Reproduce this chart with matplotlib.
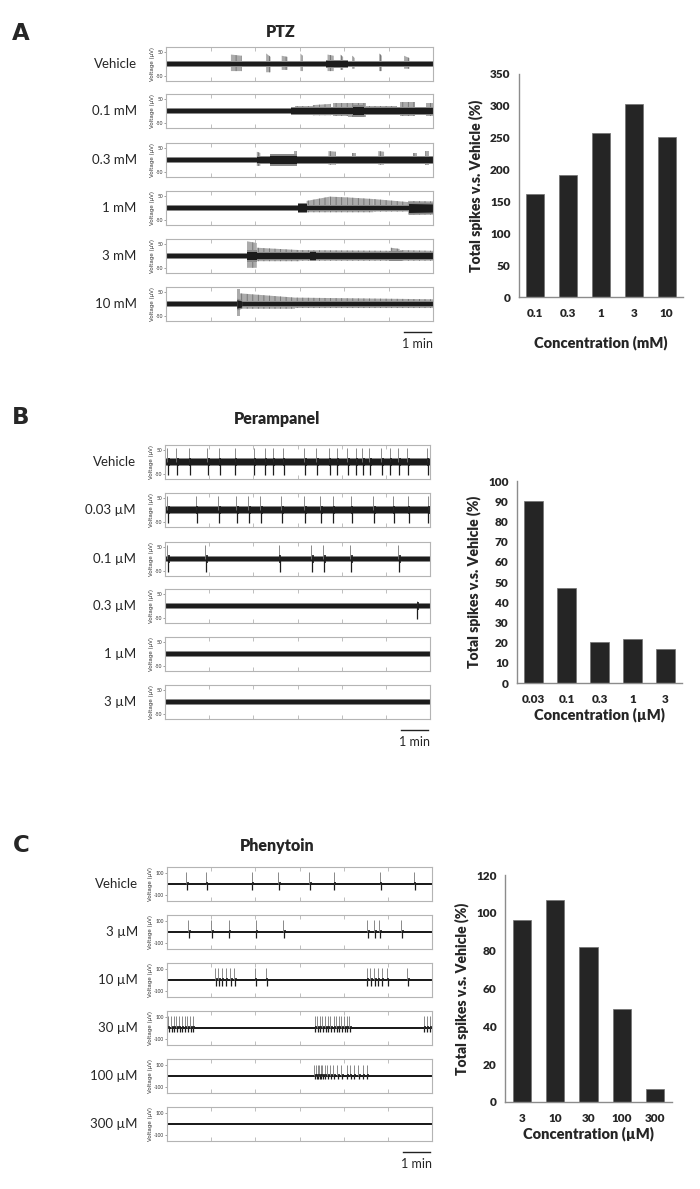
import numpy as np
import matplotlib
matplotlib.use('Agg')
import matplotlib.pyplot as plt
from matplotlib.transforms import blended_transform_factory

plt.rcParams['font.family'] = ['Lato', 'DejaVu Sans']
plt.rcParams['hatch.color'] = '#6c6c6c'
plt.rcParams['hatch.linewidth'] = 0.6

W, H = 700, 1189

# bar charts: total spikes as % of vehicle
ptz_conc = ['0.1', '0.3', '1', '3', '10']
ptz_pct = [162, 192, 258, 303, 251]
per_conc = ['0.03', '0.1', '0.3', '1', '3']
per_pct = [90, 47, 20.5, 22, 17]
phe_conc = ['3', '10', '30', '100', '300']
phe_pct = [96, 107, 82, 49, 7]

# row labels of the traces
ptz_rows = ['Vehicle', '0.1 mM', '0.3 mM', '1 mM', '3 mM', '10 mM']
per_rows = ['Vehicle', '0.03 µM', '0.1 µM', '0.3 µM', '1 µM', '3 µM']
phe_rows = ['Vehicle', '3 µM', '10 µM', '30 µM', '100 µM', '300 µM']

# PTZ traces (time in s, voltage in µV)
# dark core: (t0, t1, halfwidth0, halfwidth1)
ptz_dark = [
    [(0, 600, 10, 10), (360, 410, 13, 13)],
    [(0, 280, 8, 8), (280, 600, 12, 12), (420, 445, 18, 18)],
    [(0, 204, 8, 8), (204, 600, 12, 12), (234, 294, 17, 17)],
    [(0, 297, 8, 8), (297, 316, 15, 15), (316, 545, 9, 9), (545, 600, 19, 17)],
    [(0, 183, 8, 8), (183, 204, 18, 18), (204, 600, 11, 11), (324, 338, 15, 15), (500, 530, 14, 14)],
    [(0, 600, 8, 8), (159, 170, 18, 13)],
]
# grey bursts: (t0, t1, upper0, upper1, lower)
ptz_gray = [
    [(146, 170, 40, 35, 30), (225, 235, 45, 30, 35), (260, 273, 35, 30, 25), (302, 307, 45, 35, 30),
     (363, 377, 40, 35, 30), (392, 398, 40, 30, 25), (419, 424, 35, 25, 20), (479, 485, 45, 35, 30),
     (535, 547, 35, 25, 20)],
    [(290, 330, 20, 20, 15), (330, 370, 25, 30, 18), (375, 410, 35, 35, 20), (410, 450, 35, 35, 25),
     (450, 520, 20, 20, 18), (525, 560, 40, 40, 20), (585, 600, 35, 35, 20)],
    [(204, 212, 35, 30, 25), (234, 294, 25, 25, 25), (288, 294, 38, 38, 20), (365, 382, 38, 35, 20),
     (417, 428, 28, 28, 18), (477, 490, 38, 35, 20), (555, 565, 30, 30, 18), (583, 590, 38, 38, 20)],
    [(316, 368, 30, 48, 18), (368, 406, 48, 45, 18), (406, 466, 45, 38, 18), (466, 545, 38, 25, 15),
     (545, 600, 30, 28, 28)],
    [(183, 204, 62, 55, 50), (204, 300, 35, 25, 22), (300, 505, 25, 22, 20), (505, 525, 35, 30, 20),
     (525, 600, 25, 22, 20)],
    [(159, 166, 62, 62, 50), (166, 290, 45, 27, 20), (290, 600, 27, 20, 17)],
]

# Perampanel traces: spike times (s), spike amplitude (up, down), baseline half width
per_spikes = [
    [5, 25, 54, 95, 122, 158, 201, 226, 244, 267, 315, 342, 371, 389, 412, 432, 446, 462, 489, 509, 528, 548, 593],
    [5, 70, 120, 161, 188, 215, 263, 315, 351, 380, 421, 471, 516, 550, 595],
    [5, 91, 258, 331, 358, 419, 528],
    [570],
    [],
    [],
]
per_amp = [(58, -55), (58, -55), (58, -55), (20, -55), (0, 0), (0, 0)]
per_noise = [11, 11, 10, 10, 10, 10]

# Phenytoin traces
phe_spikes = [
    [44, 88, 192, 252, 322, 377, 482, 559],
    [48, 100, 140, 201, 263, 453, 469, 480, 530],
    [109, 116, 124, 133, 143, 152, 199, 224, 452, 460, 469, 477, 486, 498, 544],
    [2, 9, 15, 21, 27, 33, 40, 46, 52, 58, 334, 340, 346, 352, 358, 364, 370, 377, 383, 389, 395, 401,
     407, 412, 581, 588, 595],
    [333, 337, 341, 345, 348, 352, 357, 363, 369, 376, 385, 395, 407, 414, 423, 433, 443, 452],
    [],
]
phe_amp = [(105, -55), (105, -55), (110, -50), (110, -35), (95, -25), (0, 0)]
phe_noise = [8, 8, 8, 8, 8, 8]

DARK = '#1c1c1c'
FUZZ = '#8a8a8a'
GREY = '#767676'
FRAME = '#b4b4b4'
TXT = '#262626'


def px_axes(fig, left, top, right, bottom):
    return fig.add_axes([left / W, 1 - bottom / H, (right - left) / W, (bottom - top) / H])


def trace_frame(ax, ymax, ytick, label):
    ax.set_xlim(0, 600)
    ax.set_ylim(-ymax, ymax)
    for s in ax.spines.values():
        s.set_color(FRAME)
        s.set_linewidth(0.8)
    ax.set_xticks([100, 200, 300, 400, 500])
    ax.set_xticklabels([])
    ax.tick_params(axis='x', direction='in', top=True, bottom=True, length=3, width=0.6, color=FRAME)
    ax.set_yticks([ytick, -ytick])
    ax.set_yticklabels([str(ytick), '-' + str(ytick)])
    ax.tick_params(axis='y', direction='out', length=1.5, width=0.4, labelsize=3.5, pad=0.5,
                   color='#555555', labelcolor='#333333')
    ax.set_ylabel('Voltage (µV)', fontsize=4, labelpad=0.5, family='DejaVu Sans', color='#333333')
    ax.text(-0.11, 0.5, label, transform=ax.transAxes, ha='right', va='center', fontsize=9.5, color=TXT)


def band(ax, t0, t1, h0, h1):
    # noisy band: grey fringe with a dark core
    ax.fill_between([t0, t1], [-h0 * 1.4, -h1 * 1.4], [h0 * 1.4, h1 * 1.4], color=FUZZ, lw=0)
    ax.fill_between([t0, t1], [-h0, -h1], [h0, h1], color=DARK, lw=0)


def spikes(ax, times, up, down, blob):
    if len(times) == 0:
        return
    t = np.asarray(times, float)
    ax.vlines(t, 0, up, color=GREY, lw=0.6)
    ax.vlines(t + 1.5, down, 0, color=DARK, lw=0.9)
    ax.vlines(t + 3.5, blob[0], blob[1], color=DARK, lw=1.2)


def scale_bar(ax):
    tr = blended_transform_factory(ax.transData, ax.transAxes)
    ax.plot([535, 595], [-0.33, -0.33], color='#222222', lw=1, transform=tr, clip_on=False)
    ax.text(565, -0.68, '1 min', transform=tr, ha='center', va='center', fontsize=9, color=TXT)


def bar_panel(ax, cats, vals, ymax, step, xlabel, labelpad):
    ax.bar(range(len(vals)), vals, width=0.55, color='#252525', edgecolor='#707070', lw=0.5)
    ax.set_xlim(-0.5, len(vals) - 0.5)
    ax.set_ylim(0, ymax)
    ax.set_yticks(np.arange(0, ymax + 1, step))
    ax.set_xticks(range(len(vals)))
    ax.set_xticklabels(cats)
    for side in ['top', 'right']:
        ax.spines[side].set_visible(False)
    for side in ['left', 'bottom']:
        ax.spines[side].set_color('#8c8c8c')
        ax.spines[side].set_linewidth(1)
    ax.tick_params(axis='both', length=0, labelsize=8.5, labelcolor=TXT)
    ax.tick_params(axis='y', pad=6)
    ax.tick_params(axis='x', pad=8)
    for lbl in ax.get_xticklabels() + ax.get_yticklabels():
        lbl.set_fontweight('heavy')
    ax.set_ylabel('Total spikes v.s. Vehicle (%)', fontsize=10, fontweight='heavy', color=TXT, labelpad=5)
    ax.set_xlabel(xlabel, fontsize=10.5, fontweight='heavy', color=TXT, labelpad=labelpad)


fig = plt.figure(figsize=(7, 11.89), dpi=100)

# ---------------- A: PTZ ----------------
fig.text(21 / W, 1 - 34 / H, 'A', fontsize=16.5, fontweight='bold', family='DejaVu Sans',
         ha='center', va='center', color=TXT)
fig.text(281 / W, 1 - 32 / H, 'PTZ', fontsize=11.5, fontweight='heavy', ha='center', va='center', color=TXT)
for i, top in enumerate([47, 94, 143, 191, 239, 287]):
    ax = px_axes(fig, 166, top, 433, top + 34)
    trace_frame(ax, 72, 50, ptz_rows[i])
    for (t0, t1, u0, u1, lo) in ptz_gray[i]:
        ax.fill_between([t0, t1], [-lo, -lo], [u0, u1], facecolor='#ababab', edgecolor='#707070',
                        hatch='|||', lw=0)
    for (t0, t1, h0, h1) in ptz_dark[i]:
        band(ax, t0, t1, h0, h1)
scale_bar(ax)

ax = px_axes(fig, 519, 74, 683, 297)
bar_panel(ax, ptz_conc, ptz_pct, 350, 50, 'Concentration (mM)', 12)

# ---------------- B: Perampanel ----------------
fig.text(21 / W, 1 - 418 / H, 'B', fontsize=16.5, fontweight='bold', family='DejaVu Sans',
         ha='center', va='center', color=TXT)
fig.text(277 / W, 1 - 419 / H, 'Perampanel', fontsize=11.5, fontweight='heavy', ha='center', va='center',
         color=TXT)
for i, top in enumerate([445, 493, 542, 589, 637, 685]):
    ax = px_axes(fig, 165, top, 430, top + 34)
    trace_frame(ax, 72, 50, per_rows[i])
    band(ax, 0, 600, per_noise[i], per_noise[i])
    up, down = per_amp[i]
    spikes(ax, per_spikes[i], up, down, (-18, 18))
scale_bar(ax)

ax = px_axes(fig, 517, 481, 682, 683)
bar_panel(ax, per_conc, per_pct, 100, 10, 'Concentration (µM)', 2)

# ---------------- C: Phenytoin ----------------
fig.text(21 / W, 1 - 846 / H, 'C', fontsize=16.5, fontweight='bold', family='DejaVu Sans',
         ha='center', va='center', color=TXT)
fig.text(277 / W, 1 - 846 / H, 'Phenytoin', fontsize=11.5, fontweight='heavy', ha='center', va='center',
         color=TXT)
for i, top in enumerate([867, 915, 963, 1011, 1059, 1107]):
    ax = px_axes(fig, 167, top, 432, top + 34)
    trace_frame(ax, 150, 100, phe_rows[i])
    band(ax, 0, 600, phe_noise[i], phe_noise[i])
    up, down = phe_amp[i]
    spikes(ax, phe_spikes[i], up, down, (0, 18))
scale_bar(ax)

ax = px_axes(fig, 505, 875, 672, 1102)
bar_panel(ax, phe_conc, phe_pct, 120, 20, 'Concentration (µM)', 2)

fig.savefig('out.png', dpi=100)
